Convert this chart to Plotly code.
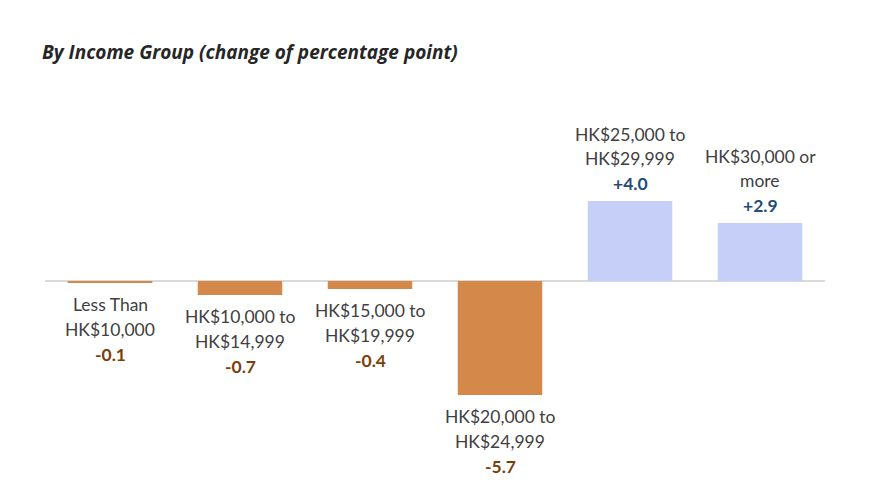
import plotly.graph_objects as go

categories = [["Less Than", "HK$10,000"], ["HK$10,000 to", "HK$14,999"], ["HK$15,000 to", "HK$19,999"],
              ["HK$20,000 to", "HK$24,999"], ["HK$25,000 to", "HK$29,999"], ["HK$30,000 or", "more"]]
values = [-0.1, -0.7, -0.4, -5.7, 4.0, 2.9]
value_labels = ["-0.1", "-0.7", "-0.4", "-5.7", "+4.0", "+2.9"]

NEG_COLOR = "#D4894A"
POS_COLOR = "#C5CFF8"
NEG_TEXT = "#7B3F0A"
POS_TEXT = "#1F4E79"
FONT = "Lato"
SIZE = 17.5

xs = list(range(len(categories)))
colors = [NEG_COLOR if v < 0 else POS_COLOR for v in values]

fig = go.Figure(go.Bar(x=xs, y=values, marker=dict(color=colors, line=dict(width=0)),
                       hoverinfo="skip"))

for i, (c, v, lab) in enumerate(zip(categories, values, value_labels)):
    tc = NEG_TEXT if v < 0 else POS_TEXT
    if v < 0:
        lines = [(c[0], "#404040", False), (c[1], "#404040", False), (lab, tc, True)]
        shifts = [-21, -46, -71]
    else:
        lines = [(lab, tc, True), (c[1], "#404040", False), (c[0], "#404040", False)]
        shifts = [18, 43, 67]
    for (t, col, bold), s in zip(lines, shifts):
        fig.add_annotation(x=i, y=v, text=f"<b>{t}</b>" if bold else t, showarrow=False,
                           yanchor="middle", yshift=s,
                           font=dict(family=FONT, size=SIZE, color=col))

fig.add_annotation(xref="paper", yref="paper", x=-5 / 780, y=1 + 28 / 400,
                   xanchor="left", yanchor="middle",
                   text="<b><i>By Income Group (change of percentage point)</i></b>", showarrow=False,
                   font=dict(family="Open Sans", size=19, color="#262626"))

fig.update_layout(
    width=894, height=489,
    margin=dict(l=37, r=77, t=72, b=17),
    paper_bgcolor="white", plot_bgcolor="white",
    bargap=0.35, showlegend=False,
    xaxis=dict(range=[-0.5, 5.5], showticklabels=False, showgrid=False, zeroline=False,
               showline=False, fixedrange=True),
    yaxis=dict(range=[-9.95, 10.05], showticklabels=False, showgrid=False, zeroline=True,
               zerolinecolor="#D9D9D9", zerolinewidth=1.5, showline=False, fixedrange=True),
)

fig.write_html("out.html")
